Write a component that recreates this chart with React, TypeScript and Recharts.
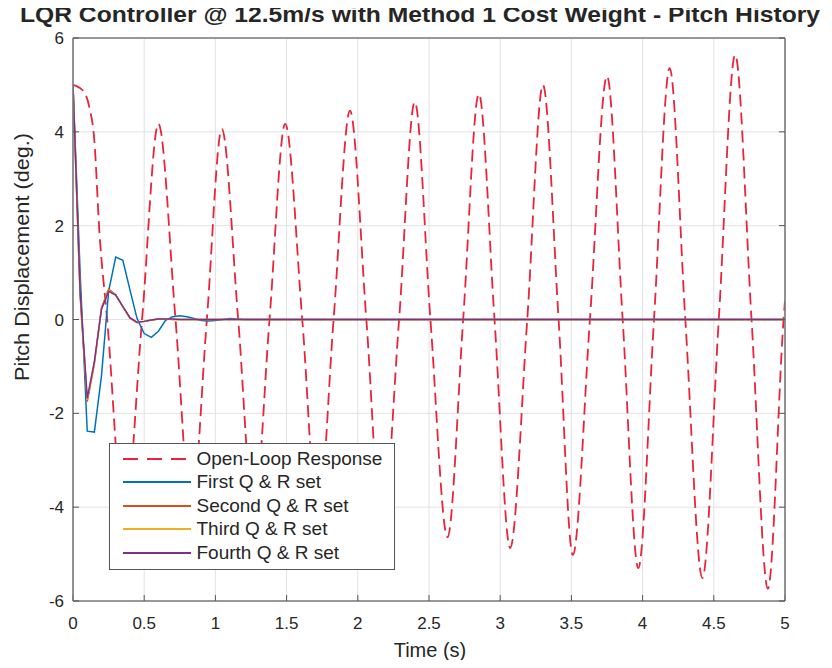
import { LineChart, Line, XAxis, YAxis, CartesianGrid, Legend } from "recharts";

const FONT = '"Liberation Sans", Arial, Helvetica, sans-serif';
const FRAME = "#7a7a7a";
const TEXT = "#262626";

const xTicks = [0, 0.5, 1, 1.5, 2, 2.5, 3, 3.5, 4, 4.5, 5];
const yTicks = [-6, -4, -2, 0, 2, 4, 6];

// open-loop pitch (t, deg): start, peaks, zero crossings, troughs
const openLoop: [number, number][] = [
  [0, 5.0], [0.02, 4.98], [0.08, 4.84], [0.115, 4.52], [0.15, 3.81], [0.185, 1.89],
  [0.24, 0], [0.36, -4.3], [0.485, 0], [0.6, 4.17], [0.72, 0], [0.83, -4.1],
  [0.94, 0], [1.045, 4.06], [1.16, 0], [1.27, -4.15], [1.38, 0], [1.49, 4.17],
  [1.61, 0], [1.72, -4.3], [1.83, 0], [1.945, 4.45], [2.06, 0], [2.17, -4.5],
  [2.29, 0], [2.4, 4.64], [2.51, 0], [2.63, -4.64], [2.74, 0], [2.85, 4.81],
  [2.96, 0], [3.07, -4.87], [3.19, 0], [3.3, 5.0], [3.41, 0], [3.51, -5.02],
  [3.63, 0], [3.75, 5.19], [3.86, 0], [3.97, -5.3], [4.08, 0], [4.19, 5.36],
  [4.3, 0], [4.42, -5.51], [4.535, 0], [4.65, 5.64], [4.765, 0], [4.88, -5.74],
  [4.99, 0], [5, 0.4],
];

// closed-loop sample times (s)
const timeCL = [
  0, 0.05, 0.1, 0.15, 0.2, 0.25, 0.3, 0.35, 0.4, 0.45, 0.5, 0.55, 0.6,
  0.65, 0.7, 0.75, 0.8, 0.85, 0.9, 0.95, 1.0, 1.05, 1.1, 1.15, 1.2, 5,
];
const firstSet = [
  5, 1.0, -2.38, -2.4, -1.2, 0.6, 1.33, 1.26, 0.63, 0.02, -0.3, -0.38, -0.25,
  -0.02, 0.06, 0.08, 0.06, 0.02, -0.02, -0.03, -0.02, 0, 0.02, 0.01, 0, 0,
];
const secondSet = [
  5, 0.5, -1.75, -0.95, 0.25, 0.65, 0.53, 0.27, 0.03, -0.07, -0.04, -0.01, 0.01,
  0.01, 0, 0, 0, 0, 0, 0, 0, 0, 0, 0, 0, 0,
];
const thirdSet = [
  5, 0.55, -1.71, -0.92, 0.23, 0.62, 0.52, 0.27, 0.04, -0.06, -0.04, -0.01, 0.01,
  0.01, 0, 0, 0, 0, 0, 0, 0, 0, 0, 0, 0, 0,
];
const fourthSet = [
  5, 0.6, -1.68, -0.9, 0.22, 0.6, 0.52, 0.28, 0.04, -0.06, -0.04, -0.01, 0.01,
  0.01, 0.01, 0, 0, 0, 0, 0, 0, 0, 0, 0, 0, 0,
];

const seriesNames = [
  "Open-Loop Response",
  "First Q & R set",
  "Second Q & R set",
  "Third Q & R set",
  "Fourth Q & R set",
];
const seriesColors = ["#e8243c", "#0072bd", "#d95319", "#edb120", "#7e2f8e"];

const openData = openLoop.map(([t, v]) => ({ t, v }));
const toData = (vals: number[]) => timeCL.map((t, i) => ({ t, v: vals[i] }));
const closedSets = [firstSet, secondSet, thirdSet, fourthSet].map(toData);

function LegendBox() {
  return (
    <div
      style={{
        width: 286,
        height: 127,
        boxSizing: "border-box",
        border: "1.5px solid #555",
        background: "#fff",
        paddingTop: 3,
        fontFamily: FONT,
        fontSize: 19,
        color: TEXT,
      }}
    >
      {seriesNames.map((name, i) => (
        <div key={name} style={{ display: "flex", alignItems: "center", height: 23.5 }}>
          <svg width={68} height={4} style={{ marginLeft: 12.5 }}>
            <line
              x1={0}
              y1={2}
              x2={68}
              y2={2}
              stroke={seriesColors[i]}
              strokeWidth={1.8}
              strokeDasharray={i === 0 ? "15 9" : undefined}
            />
          </svg>
          <span style={{ marginLeft: 6, whiteSpace: "nowrap" }}>{name}</span>
        </div>
      ))}
    </div>
  );
}

export default function App() {
  const tickStyle = { fill: TEXT, fontSize: 17, fontFamily: FONT };
  const blank = () => "";
  return (
    <div style={{ position: "relative", width: 832, height: 668, margin: -8, background: "#fff" }}>
      <LineChart width={832} height={668} margin={{ top: 37, right: 46, bottom: 0, left: 0 }}>
        <CartesianGrid stroke="#e2e2e2" strokeWidth={1} />
        <XAxis
          dataKey="t"
          type="number"
          domain={[0, 5]}
          ticks={xTicks}
          interval={0}
          height={67}
          tickSize={-6}
          tickMargin={22}
          tick={tickStyle}
          axisLine={{ stroke: FRAME, strokeWidth: 1.6 }}
          tickLine={{ stroke: "#555" }}
          allowDataOverflow
        />
        <XAxis
          xAxisId="top"
          orientation="top"
          type="number"
          domain={[0, 5]}
          ticks={xTicks}
          interval={0}
          height={1}
          tickSize={-6}
          tickFormatter={blank}
          axisLine={{ stroke: FRAME, strokeWidth: 1.6 }}
          tickLine={{ stroke: "#555" }}
          allowDataOverflow
        />
        <YAxis
          type="number"
          domain={[-6, 6]}
          ticks={yTicks}
          interval={0}
          width={73}
          tickSize={-6}
          tickMargin={15}
          tick={tickStyle}
          axisLine={{ stroke: FRAME, strokeWidth: 1.6 }}
          tickLine={{ stroke: "#555" }}
          allowDataOverflow
        />
        <YAxis
          yAxisId="right"
          orientation="right"
          type="number"
          domain={[-6, 6]}
          ticks={yTicks}
          interval={0}
          width={1}
          tickSize={-6}
          tickFormatter={blank}
          axisLine={{ stroke: FRAME, strokeWidth: 1.6 }}
          tickLine={{ stroke: "#555" }}
          allowDataOverflow
        />
        <Line
          data={openData}
          dataKey="v"
          name={seriesNames[0]}
          type="monotone"
          stroke={seriesColors[0]}
          strokeWidth={1.8}
          strokeDasharray="12 6"
          dot={false}
          isAnimationActive={false}
        />
        {closedSets.map((d, i) => (
          <Line
            key={seriesNames[i + 1]}
            data={d}
            dataKey="v"
            name={seriesNames[i + 1]}
            type="linear"
            stroke={seriesColors[i + 1]}
            strokeWidth={1.5}
            dot={false}
            isAnimationActive={false}
          />
        ))}
        <Legend
          layout="vertical"
          align="center"
          verticalAlign="middle"
          wrapperStyle={{ left: 109, top: 443, width: 286, height: 127 }}
          content={() => <LegendBox />}
        />
      </LineChart>
      <svg
        width={832}
        height={668}
        style={{ position: "absolute", left: 0, top: 0, pointerEvents: "none" }}
        fontFamily={FONT}
        fill={TEXT}
      >
        <text x={420} y={22} textAnchor="middle" fontSize={22} fontWeight="bold" textLength={800} lengthAdjust="spacingAndGlyphs">
          LQR Controller @ 12.5m/s with Method 1 Cost Weight - Pitch History
        </text>
        <text x={430} y={657} textAnchor="middle" fontSize={20}>
          Time (s)
        </text>
        <text
          x={29}
          y={257}
          textAnchor="middle"
          fontSize={20}
          textLength={248}
          lengthAdjust="spacingAndGlyphs"
          transform="rotate(-90 29 257)"
        >
          Pitch Displacement (deg.)
        </text>
      </svg>
    </div>
  );
}
